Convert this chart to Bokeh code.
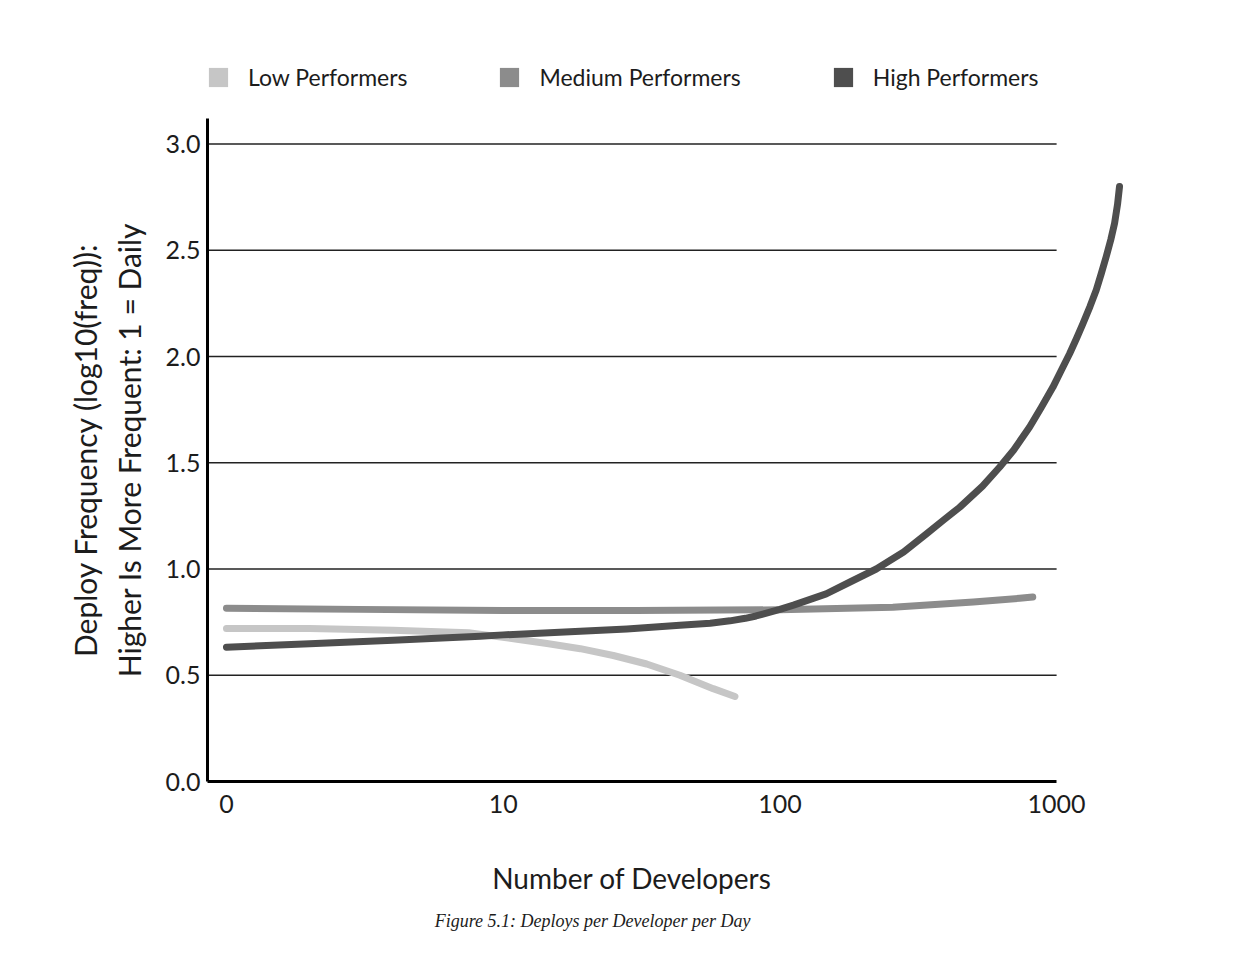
import math
from bokeh.plotting import figure
from bokeh.layouts import column
from bokeh.models import (Range1d, FixedTicker, Legend, LegendItem, Label,
                          NumeralTickFormatter)
from bokeh.embed import file_html
from bokeh.resources import INLINE

# ---------------- data ----------------
series_names = ["Low Performers", "Medium Performers", "High Performers"]
series_colors = ["#c6c6c6", "#8c8c8c", "#4e4e4e"]

low_x = [1, 2, 4, 7.5, 10.9, 14.4, 19, 25, 33, 43.5, 57.4, 68.8]
low_y = [0.72, 0.72, 0.712, 0.70, 0.672, 0.649, 0.625, 0.593, 0.553, 0.50,
         0.437, 0.40]

med_x = [1, 3, 10, 30, 100, 256, 500, 735, 820]
med_y = [0.815, 0.81, 0.805, 0.805, 0.808, 0.82, 0.845, 0.862, 0.868]

high_x = [1, 2, 4, 8.26, 10, 19, 28, 43.5, 56, 66, 75, 82, 100, 112, 147,
          180, 223, 280, 339, 390, 446, 540, 623, 700, 799, 880, 970, 1040,
          1114, 1180, 1245, 1320, 1391, 1450, 1511, 1570, 1620, 1660, 1688]
high_y = [0.632, 0.648, 0.665, 0.683, 0.69, 0.707, 0.718, 0.735, 0.745, 0.756,
          0.768, 0.779, 0.81, 0.83, 0.883, 0.94, 1.0, 1.08, 1.166, 1.23, 1.29,
          1.39, 1.48, 1.56, 1.668, 1.76, 1.856, 1.935, 2.013, 2.085, 2.155,
          2.235, 2.313, 2.39, 2.47, 2.55, 2.627, 2.715, 2.80]

x_ticks = [1, 10, 100, 1000]
x_tick_labels = ["0", "10", "100", "1000"]
y_ticks = [0.0, 0.5, 1.0, 1.5, 2.0, 2.5, 3.0]

x_title = "Number of Developers"
y_title = "Deploy Frequency (log10(freq)):\nHigher Is More Frequent: 1 = Daily"
caption = "Figure 5.1: Deploys per Developer per Day"

# ---------------- layout constants ----------------
X_START, X_END = 0.854, 1928
Y_START, Y_END = 0.0, 3.12
FONT = "Lato"
TXT = "#1c1c1c"
W = 1208
BL, BR = 207, 73
NAN = float("nan")


def strip(height):
    f = figure(width=W, height=height, x_axis_type="log", x_range=Range1d(X_START, X_END),
               y_range=Range1d(0, 1), output_backend="svg", toolbar_location=None,
               x_axis_location=None, y_axis_location=None,
               min_border_left=BL, min_border_right=BR,
               min_border_top=0, min_border_bottom=0)
    f.outline_line_color = None
    f.xgrid.visible = False
    f.ygrid.visible = False
    return f


# ---------------- top strip: legend ----------------
p0 = strip(118)
items = []
for name, c in zip(series_names, series_colors):
    # swatch-only renderer (no visible geometry of its own)
    r = p0.quad(left=[NAN], right=[NAN], top=[NAN], bottom=[NAN],
                fill_color=c, line_color=None)
    items.append(LegendItem(label=name, renderers=[r]))
legend = Legend(items=items, location=(-1, 27), orientation="horizontal",
                glyph_width=24, glyph_height=24, label_standoff=18, spacing=90,
                padding=0, margin=0, border_line_color=None,
                background_fill_alpha=0, label_text_font=FONT,
                label_text_font_size="23px", label_text_color=TXT,
                label_height=20)
p0.add_layout(legend)

# ---------------- main chart ----------------
p = figure(width=W, height=713, x_axis_type="log",
           x_range=p0.x_range, y_range=Range1d(Y_START, Y_END),
           output_backend="svg", toolbar_location=None,
           min_border_left=BL, min_border_right=BR,
           min_border_top=0, min_border_bottom=50)
p.outline_line_color = None
p.xgrid.visible = False
p.ygrid.visible = False

grid_y = [v for v in y_ticks if v > 0]
p.segment(x0=[X_START] * len(grid_y), x1=[x_ticks[-1]] * len(grid_y),
          y0=grid_y, y1=grid_y, line_color="#222222", line_width=1.5)

xa = p.xaxis[0]
xa.ticker = FixedTicker(ticks=x_ticks, minor_ticks=[])
xa.major_label_overrides = {t: l for t, l in zip(x_ticks, x_tick_labels)}
xa.bounds = (X_START, x_ticks[-1])
ya = p.yaxis[0]
ya.ticker = FixedTicker(ticks=y_ticks, minor_ticks=[])
ya.formatter = NumeralTickFormatter(format="0.0")
for ax in (xa, ya):
    ax.axis_line_color = "black"
    ax.axis_line_width = 3
    ax.major_tick_line_color = None
    ax.minor_tick_line_color = None
    ax.major_tick_out = 0
    ax.major_tick_in = 0
    ax.minor_tick_out = 0
    ax.major_label_text_font = FONT
    ax.major_label_text_font_size = "25px"
    ax.major_label_text_color = TXT
xa.major_label_standoff = 13
ya.major_label_standoff = 7
ya.axis_label = y_title
ya.axis_label_text_font = FONT
ya.axis_label_text_font_size = "30px"
ya.axis_label_text_font_style = "normal"
ya.axis_label_text_color = TXT
ya.axis_label_standoff = 16

for xs, ys, c in zip([low_x, med_x, high_x], [low_y, med_y, high_y], series_colors):
    p.line(xs, ys, line_color=c, line_width=7, line_cap="round", line_join="round")

# ---------------- bottom strip: x title and caption ----------------
p2 = strip(120)
mid_x = math.sqrt(X_START * x_ticks[-1])
p2.add_layout(Label(x=mid_x, y=74, x_units="data", y_units="screen", text=x_title,
                    text_font=FONT, text_font_size="28px", text_color=TXT,
                    text_align="center", text_baseline="middle"))
p2.add_layout(Label(x=mid_x * 0.72, y=31, x_units="data", y_units="screen", text=caption,
                    text_font="Liberation Serif", text_font_size="18px",
                    text_font_style="italic", text_color=TXT,
                    text_align="center", text_baseline="middle"))

layout = column(p0, p, p2, spacing=0)
open("out.html", "w").write(file_html(layout, INLINE))
